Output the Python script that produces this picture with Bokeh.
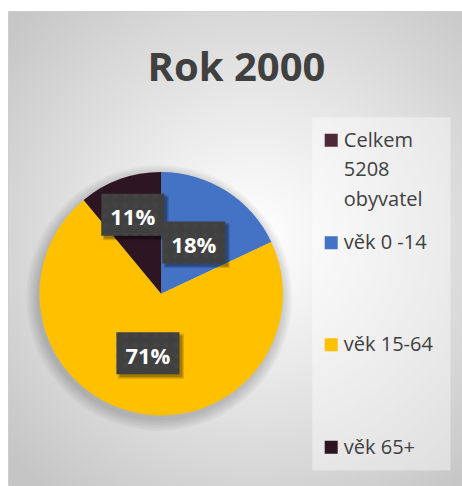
import numpy as np
from bokeh.plotting import figure
from bokeh.models import Range1d
from bokeh.core.properties import value
from bokeh.embed import file_html
from bokeh.resources import INLINE

# ---- data ----
title = "Rok 2000"
categories = ["Celkem 5208 obyvatel", "věk 0 -14", "věk 15-64", "věk 65+"]
legend_labels = ["Celkem\n5208\nobyvatel", "věk 0 -14", "věk 15-64", "věk 65+"]
shares = [0, 18, 71, 11]
colors = ["#4E2839", "#4472C4", "#FFC000", "#2D1521"]

# ---- layout (pixels, y up) ----
W, H = 454, 475
cx, cy, R = 152.7, 192.7, 121.7
label_frac = [0.5, 0.5, 0.5, 0.69]
legend_x_sq, legend_x_txt = 322.7, 335.3
legend_y = [346.3, 243.8, 141.8, 39.3]
FONT = "Open Sans"

p = figure(width=W + 8, height=H + 11, output_backend="svg", toolbar_location=None,
           x_range=Range1d(0, W), y_range=Range1d(0, H),
           min_border_left=8, min_border_right=0, min_border_bottom=0, min_border_top=11)
p.axis.visible = False
p.grid.visible = False
p.border_fill_color = "white"
p.outline_line_color = "#cfcfcf"

# background radial gradient
yy, xx = np.mgrid[0:H, 0:W]
px = xx + 0.5
py = H - (yy + 0.5)
gcx, gcy = 245, H - 248
d = np.sqrt((px - gcx) ** 2 + (py - gcy) ** 2) / 330.0
d = np.clip(d, 0, 1)
g = (255 - 58 * d ** 1.1).astype(np.uint32)
img = (255 << 24) | (g << 16) | (g << 8) | g
p.image_rgba(image=[img.astype(np.uint32)], x=0, y=0, dw=W, dh=H)

# soft pie shadow
for k in range(8):
    p.circle(x=cx - 2, y=cy - 4, radius=R + 1 + k * 1.5, fill_color="black",
             fill_alpha=0.022, line_color=None)

# pie wedges
total = float(sum(shares))
cum = 0.0
starts, ends, wc = [], [], []
mids = []
for s, c in zip(shares, colors):
    a0 = np.pi / 2 - 2 * np.pi * cum / total
    cum += s
    a1 = np.pi / 2 - 2 * np.pi * cum / total
    mids.append((a0 + a1) / 2)
    if s > 0:
        starts.append(a0); ends.append(a1); wc.append(c)
p.wedge(x=cx, y=cy, radius=R, start_angle=starts, end_angle=ends,
        direction="clock", fill_color=wc, line_color=None)

# data labels
lx, ly, lt = [], [], []
for s, m, f in zip(shares, mids, label_frac):
    if s > 0:
        lx.append(cx + R * f * np.cos(m))
        ly.append(cy + R * f * np.sin(m))
        lt.append(f"{round(100 * s / total)}%")
lx = np.array(lx); ly = np.array(ly)
bw, bh = 63, 42
p.rect(x=lx + 3, y=ly - 3, width=bw + 3, height=bh + 3, fill_color="black",
       fill_alpha=0.15, line_color=None)
p.rect(x=lx + 3, y=ly - 3, width=bw, height=bh, fill_color="black",
       fill_alpha=0.25, line_color=None)
p.rect(x=lx, y=ly, width=bw, height=bh, fill_color="#404040", line_color=None,
       hatch_pattern="dot", hatch_color="#4a4a4a", hatch_alpha=0.45,
       hatch_scale=10, hatch_weight=2)
p.text(x=lx, y=ly - 1.5, text=lt, text_color="white", text_font=value(FONT),
       text_font_style="bold", text_font_size="22px", text_align="center",
       text_baseline="alphabetic")

# title
p.text(x=[228], y=[421], text=[title], text_color="#404040", text_font=value(FONT),
       text_font_style="bold", text_font_size="40px", text_align="center",
       text_baseline="alphabetic")

# legend
p.rect(x=[372.85], y=[192.65], width=138.3, height=353.3, fill_color="white",
       fill_alpha=0.4, line_color=None)
p.rect(x=legend_x_sq, y=legend_y, width=13, height=13, fill_color=colors,
       line_color=None)
tx, ty, tt = [], [], []
for lab, yc in zip(legend_labels, legend_y):
    for i, line in enumerate(lab.split("\n")):
        tx.append(legend_x_txt)
        ty.append(yc + 1 - i * 29.5)
        tt.append(line)
p.text(x=tx, y=ty, text=tt, text_color="#404040", text_font=value(FONT),
       text_font_size="20px", text_align="left", text_baseline="alphabetic")

open("out.html", "w").write(file_html(p, INLINE))
